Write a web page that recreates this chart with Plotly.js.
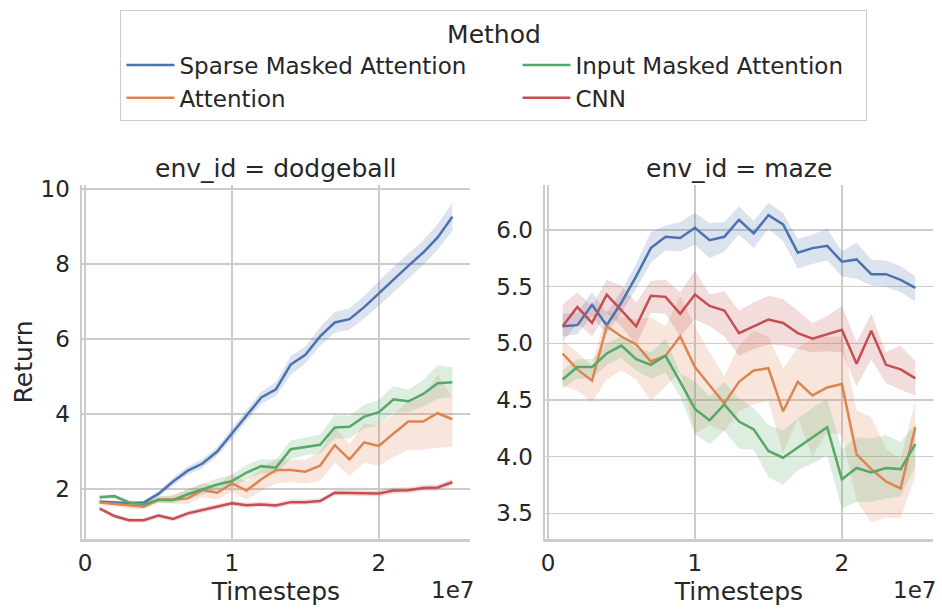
<!DOCTYPE html>
<html>
<head>
<meta charset="utf-8">
<script src="https://cdn.plot.ly/plotly-3.0.1.min.js"></script>
<style>html,body{margin:0;padding:0;background:#fff;}#chart{width:942px;height:615px;}</style>
</head>
<body>
<div id="chart"></div>
<script>
// Timesteps (x values)
const steps = [1e6,2e6,3e6,4e6,5e6,6e6,7e6,8e6,9e6,10e6,11e6,12e6,13e6,14e6,15e6,16e6,17e6,18e6,19e6,20e6,21e6,22e6,23e6,24e6,25e6];

const methods = ["Sparse Masked Attention", "Attention", "Input Masked Attention", "CNN"];
const colors = ["#4c72b0", "#dd8452", "#55a868", "#c44e52"];
const legendRanks = [1, 3, 2, 4];

// ---- dodgeball ----
const dodge_sparse    = [1.66,1.64,1.62,1.64,1.87,2.2,2.49,2.68,3.0,3.48,3.97,4.44,4.66,5.32,5.58,6.07,6.44,6.53,6.85,7.22,7.59,7.95,8.3,8.71,9.26];
const dodge_sparse_lo = [1.61,1.60,1.58,1.59,1.80,2.10,2.38,2.57,2.88,3.33,3.82,4.27,4.48,5.05,5.35,5.82,6.17,6.25,6.55,6.88,7.25,7.62,7.97,8.38,8.88];
const dodge_sparse_hi = [1.72,1.69,1.66,1.69,1.94,2.30,2.60,2.80,3.12,3.62,4.12,4.60,4.85,5.55,5.80,6.32,6.72,6.82,7.15,7.55,7.92,8.28,8.63,9.07,9.63];

const dodge_attn    = [1.64,1.6,1.55,1.53,1.72,1.72,1.75,1.97,1.9,2.15,1.96,2.26,2.51,2.51,2.46,2.62,3.17,2.79,3.24,3.15,3.48,3.8,3.8,4.02,3.86];
const dodge_attn_lo = [1.58,1.53,1.48,1.46,1.62,1.62,1.60,1.78,1.72,1.92,1.72,1.95,2.15,2.18,2.15,2.22,2.70,2.35,2.70,2.62,2.85,3.05,3.05,3.10,3.13];
const dodge_attn_hi = [1.70,1.66,1.62,1.60,1.80,1.85,1.98,2.15,2.10,2.40,2.20,2.55,2.80,2.80,2.78,3.00,3.65,3.20,3.75,3.70,4.00,4.35,4.45,5.05,4.45];

const dodge_input    = [1.78,1.81,1.64,1.59,1.71,1.71,1.86,1.99,2.12,2.21,2.44,2.61,2.57,3.06,3.13,3.18,3.64,3.66,3.93,4.05,4.39,4.34,4.53,4.82,4.85];
const dodge_input_lo = [1.72,1.75,1.58,1.52,1.64,1.62,1.73,1.85,1.98,2.05,2.25,2.42,2.40,2.80,2.90,2.95,3.35,3.35,3.62,3.70,4.05,4.05,4.20,4.40,4.46];
const dodge_input_hi = [1.84,1.86,1.70,1.66,1.80,1.82,2.00,2.15,2.28,2.38,2.65,2.80,2.78,3.30,3.38,3.45,3.98,3.95,4.25,4.38,4.75,4.65,4.90,5.30,5.25];

const dodge_cnn    = [1.48,1.28,1.17,1.17,1.29,1.2,1.35,1.44,1.53,1.62,1.57,1.59,1.56,1.65,1.65,1.68,1.9,1.9,1.88,1.88,1.96,1.97,2.03,2.04,2.18];
const dodge_cnn_lo = [1.42,1.22,1.11,1.11,1.23,1.14,1.28,1.37,1.46,1.55,1.50,1.52,1.49,1.58,1.58,1.61,1.83,1.82,1.80,1.80,1.88,1.89,1.95,1.96,2.09];
const dodge_cnn_hi = [1.54,1.34,1.23,1.23,1.35,1.26,1.42,1.51,1.60,1.69,1.64,1.66,1.63,1.72,1.72,1.75,1.97,1.98,1.96,1.96,2.04,2.05,2.11,2.12,2.27];

// ---- maze ----
const maze_sparse    = [5.15,5.16,5.34,5.16,5.36,5.59,5.84,5.94,5.93,6.02,5.91,5.94,6.09,5.97,6.13,6.05,5.8,5.84,5.86,5.72,5.74,5.61,5.61,5.56,5.49];
const maze_sparse_lo = [5.06,5.08,5.24,5.08,5.27,5.48,5.71,5.82,5.81,5.87,5.75,5.81,5.96,5.84,6.01,5.90,5.66,5.70,5.73,5.59,5.57,5.51,5.50,5.45,5.37];
const maze_sparse_hi = [5.26,5.27,5.45,5.27,5.46,5.70,5.98,6.04,6.07,6.15,6.06,6.07,6.21,6.08,6.24,6.15,5.92,5.96,6.01,5.81,5.89,5.74,5.73,5.68,5.59];

const maze_attn    = [4.91,4.77,4.67,5.15,5.06,4.99,4.84,4.89,5.06,4.79,4.63,4.47,4.66,4.76,4.78,4.4,4.66,4.54,4.61,4.64,4.02,3.89,3.78,3.72,4.26];
const maze_attn_lo = [4.63,4.58,4.48,4.68,4.76,4.68,4.49,4.62,4.75,4.20,4.28,4.22,4.40,4.46,4.49,4.03,4.34,4.00,4.22,4.19,3.61,3.42,3.46,3.46,3.83];
const maze_attn_hi = [5.02,4.92,4.80,5.29,5.23,5.21,5.23,5.15,5.42,5.15,4.92,4.71,4.98,5.11,5.06,4.78,4.96,5.04,5.06,5.06,4.41,4.35,4.07,3.98,4.49];

const maze_input    = [4.68,4.79,4.79,4.91,4.98,4.86,4.81,4.89,4.66,4.42,4.32,4.46,4.31,4.24,4.05,3.99,4.08,4.17,4.26,3.8,3.9,3.86,3.9,3.89,4.11];
const maze_input_lo = [4.60,4.69,4.69,4.81,4.87,4.76,4.69,4.74,4.53,4.20,4.11,4.23,4.07,4.06,3.82,3.75,3.88,3.94,4.01,3.54,3.60,3.60,3.63,3.65,3.92];
const maze_input_hi = [4.76,4.86,4.86,5.00,5.06,4.96,4.92,5.04,4.74,4.66,4.53,4.66,4.51,4.43,4.28,4.23,4.34,4.43,4.51,4.06,4.17,4.16,4.19,4.13,4.29];

const maze_cnn    = [5.15,5.32,5.18,5.43,5.29,5.15,5.42,5.41,5.26,5.43,5.33,5.29,5.09,5.15,5.21,5.18,5.09,5.04,5.08,5.12,4.82,5.11,4.81,4.77,4.69];
const maze_cnn_lo = [5.01,5.18,5.06,5.27,5.15,4.98,5.27,5.26,5.06,5.21,5.15,5.06,4.89,4.95,4.99,4.98,4.95,4.92,4.93,4.92,4.62,4.86,4.65,4.59,4.54];
const maze_cnn_hi = [5.34,5.45,5.33,5.56,5.51,5.36,5.55,5.56,5.45,5.64,5.43,5.46,5.29,5.36,5.42,5.39,5.29,5.18,5.24,5.33,5.01,5.26,4.92,4.98,4.84];

// Axis tick labels
const xTickVals = [0, 1e7, 2e7];
const xTickText = ["0", "1", "2"];
const dodgeTicks = [2, 4, 6, 8, 10];
const mazeTicks = [3.5, 4.0, 4.5, 5.0, 5.5, 6.0];

const panels = [
  {xa: "x", ya: "y", series: [
    [dodge_sparse, dodge_sparse_lo, dodge_sparse_hi],
    [dodge_attn, dodge_attn_lo, dodge_attn_hi],
    [dodge_input, dodge_input_lo, dodge_input_hi],
    [dodge_cnn, dodge_cnn_lo, dodge_cnn_hi]]},
  {xa: "x2", ya: "y2", series: [
    [maze_sparse, maze_sparse_lo, maze_sparse_hi],
    [maze_attn, maze_attn_lo, maze_attn_hi],
    [maze_input, maze_input_lo, maze_input_hi],
    [maze_cnn, maze_cnn_lo, maze_cnn_hi]]}
];

// legend entry widths: first legend column wider than the second
const legendWidths = [333, 333, 286, 286];

function rgba(hex, a) {
  const n = parseInt(hex.slice(1), 16);
  return `rgba(${(n >> 16) & 255},${(n >> 8) & 255},${n & 255},${a})`;
}

const bands = [], lines = [];
panels.forEach((p, pi) => {
  p.series.forEach((s, si) => {
    const [mean, lo, hi] = s;
    bands.push({
      x: steps.concat(steps.slice().reverse()),
      y: hi.concat(lo.slice().reverse()),
      xaxis: p.xa, yaxis: p.ya, type: "scatter", mode: "lines",
      fill: "toself", fillcolor: rgba(colors[si], 0.2),
      line: {width: 0, color: rgba(colors[si], 0)},
      showlegend: false, hoverinfo: "skip"
    });
    lines.push({
      x: steps, y: mean, xaxis: p.xa, yaxis: p.ya, type: "scatter", mode: "lines",
      name: methods[si], legendgroup: methods[si], legendrank: legendRanks[si],
      legendwidth: legendWidths[si],
      showlegend: pi === 0,
      line: {color: colors[si], width: 2.5}
    });
  });
});

const FONT = "DejaVu Sans, Verdana, sans-serif";
const TXT = "#262626";
const GRID = "#cccccc";

function xAxis(domain, anchor) {
  return {
    domain: domain, anchor: anchor, range: [-0.2e6, 26.2e6],
    tickmode: "array", tickvals: xTickVals, ticktext: xTickText,
    showgrid: true, gridcolor: GRID, gridwidth: 1.5, zeroline: false,
    showline: true, linecolor: GRID, linewidth: 2.5, ticks: "",
    ticklabelstandoff: 2,
    tickfont: {family: FONT, size: 23, color: TXT},
    title: {text: "Timesteps", font: {family: FONT, size: 25, color: TXT}, standoff: 8}
  };
}
function yAxis(range, ticks, fmt, anchor, title) {
  const a = {
    domain: [0, 1], anchor: anchor, range: range,
    tickmode: "array", tickvals: ticks, ticktext: ticks.map(v => fmt ? v.toFixed(1) : String(v)),
    showgrid: true, gridcolor: GRID, gridwidth: 1.5, zeroline: false,
    showline: true, linecolor: GRID, linewidth: 2.5, ticks: "",
    ticklabelstandoff: 5,
    tickfont: {family: FONT, size: 23, color: TXT}
  };
  if (title) a.title = {text: title, font: {family: FONT, size: 25, color: TXT}, standoff: 1};
  return a;
}

const layout = {
  width: 942, height: 615,
  margin: {l: 82, r: 9, t: 185, b: 76, pad: 0},
  paper_bgcolor: "#ffffff", plot_bgcolor: "#ffffff",
  font: {family: FONT, color: TXT},
  showlegend: true,
  xaxis: xAxis([0, 0.45593], "y"),
  xaxis2: xAxis([0.54407, 1], "y2"),
  yaxis: yAxis([0.667, 10.107], dodgeTicks, false, "x", "Return"),
  yaxis2: yAxis([3.273, 6.397], mazeTicks, true, "x2", null),
  legend: {
    orientation: "h", x: 0.4841, xanchor: "center", y: 1.4944, yanchor: "top",
    bordercolor: GRID, borderwidth: 1, bgcolor: "#ffffff",
    font: {family: FONT, size: 23, color: TXT},
    title: {text: "Method", side: "top center", font: {family: FONT, size: 25, color: TXT}},
    entrywidthmode: "pixels", itemwidth: 48, traceorder: "normal"
  },
  annotations: [
    {text: "env_id = dodgeball", xref: "paper", yref: "paper", x: 0.228, y: 1.0452, xanchor: "center", yanchor: "middle", showarrow: false, font: {family: FONT, size: 25, color: TXT}},
    {text: "env_id = maze", xref: "paper", yref: "paper", x: 0.772, y: 1.0452, xanchor: "center", yanchor: "middle", showarrow: false, font: {family: FONT, size: 25, color: TXT}},
    {text: "1e7", xref: "paper", yref: "paper", x: 0.4348, y: -0.1441, xanchor: "center", yanchor: "middle", showarrow: false, font: {family: FONT, size: 23, color: TXT}},
    {text: "1e7", xref: "paper", yref: "paper", x: 0.9788, y: -0.1441, xanchor: "center", yanchor: "middle", showarrow: false, font: {family: FONT, size: 23, color: TXT}}
  ],
  hovermode: false
};

Plotly.newPlot("chart", bands.concat(lines), layout, {displayModeBar: false, staticPlot: true});
</script>
</body>
</html>
